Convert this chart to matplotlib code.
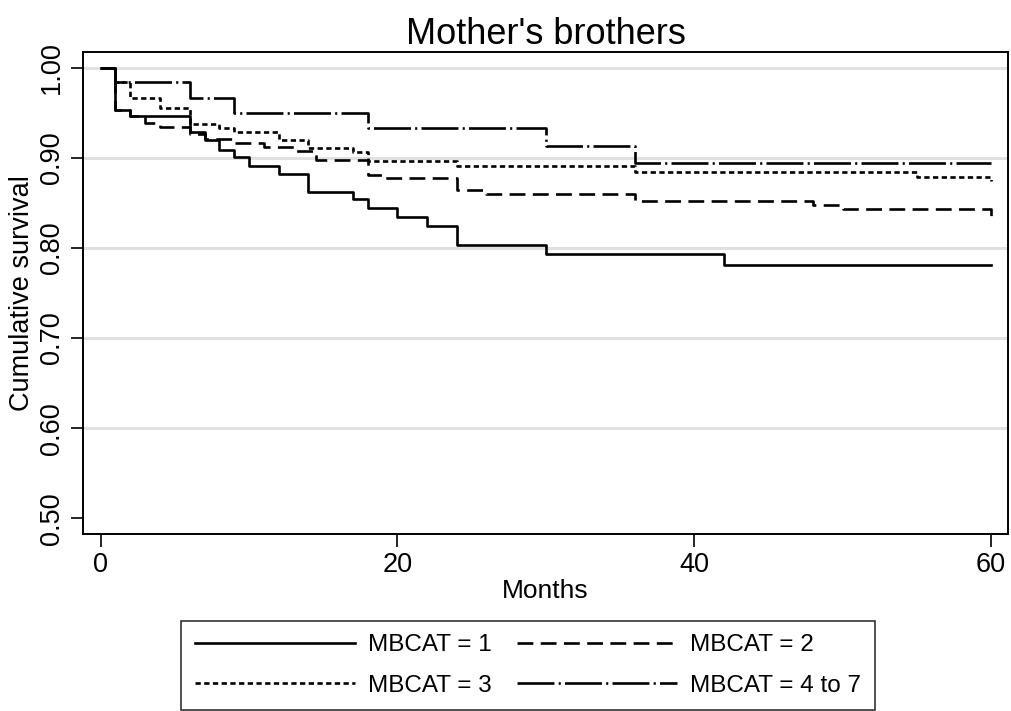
import matplotlib
matplotlib.use("Agg")
import matplotlib.pyplot as plt

plt.rcParams['font.family'] = ['Liberation Sans', 'DejaVu Sans']

# Kaplan-Meier step values (months, cumulative survival)
t1 = [0, 1, 2, 6, 7, 8, 9, 10, 12, 14, 17, 18, 20, 22, 24, 30, 42, 60]
s1 = [1.0, .953, .946, .928, .920, .909, .901, .891, .882, .862, .854, .844, .834, .824, .803, .793, .781, .781]

t2 = [0, 1, 2, 3, 4, 6, 7, 9, 11, 13, 14.5, 18, 19, 24, 26, 36, 48, 50, 60]
s2 = [1.0, .953, .946, .938, .934, .926, .921, .916, .912, .907, .898, .881, .877, .864, .860, .852, .848, .843, .835]

t3 = [0, 1, 2, 4, 6, 8, 9, 12, 14, 17, 18, 24, 36, 55, 60]
s3 = [1.0, .984, .966, .955, .937, .933, .929, .920, .911, .906, .896, .891, .884, .879, .874]

t4 = [0, 1, 6, 9, 18, 30, 36, 60]
s4 = [1.0, .984, .966, .950, .933, .913, .894, .894]

labels = ["MBCAT = 1", "MBCAT = 2", "MBCAT = 3", "MBCAT = 4 to 7"]
styles = ['-', (0, (6, 2.8)), (0, (2, 1.3)), (0, (14, 1.6, 0.8, 1.6))]

fig = plt.figure(figsize=(10.11, 7.11), dpi=100)
ax = fig.add_axes([0.0821, 0.249, 0.9149, 0.678])

for y in [0.6, 0.7, 0.8, 0.9, 1.0]:
    ax.axhline(y, color='#e1e1e1', lw=2.2, zorder=0)

lines = []
for t, s, ls, lab in zip([t1, t2, t3, t4], [s1, s2, s3, s4], styles, labels):
    ln, = ax.plot(t, s, drawstyle='steps-post', color='black', lw=1.9,
                  linestyle=ls, label=lab)
    lines.append(ln)

ax.set_xlim(-1.19, 61.15)
ax.set_ylim(0.4826, 1.0174)
ax.set_xticks([0, 20, 40, 60])
ax.set_yticks([0.5, 0.6, 0.7, 0.8, 0.9, 1.0])
ax.set_yticklabels(["0.50", "0.60", "0.70", "0.80", "0.90", "1.00"],
                   rotation=90, va='center')
ax.tick_params(labelsize=19.5, length=9, width=1.2, pad=4)
for sp in ax.spines.values():
    sp.set_linewidth(1.4)

ax.set_xlabel("Months", fontsize=19, labelpad=1)
ax.set_ylabel("Cumulative survival", fontsize=19.5, labelpad=3)
ax.set_title("Mother's brothers", fontsize=26, pad=6)

# legend fills row by row in the reference: 1, 2 / 3, 4 to 7
order = [0, 2, 1, 3]
leg = fig.legend(handles=[lines[i] for i in order],
                 labels=[labels[i] for i in order], ncol=2,
                 loc='upper center',
                 bbox_to_anchor=(528 / 1011, 1 - 621 / 711), fontsize=17.5,
                 frameon=True, fancybox=False, edgecolor='black',
                 handlelength=6.6, handletextpad=0.55, columnspacing=1.0,
                 labelspacing=0.75, borderpad=0.55, borderaxespad=0)
leg.get_frame().set_linewidth(1.2)

fig.savefig("out.png", dpi=100, facecolor='white')
